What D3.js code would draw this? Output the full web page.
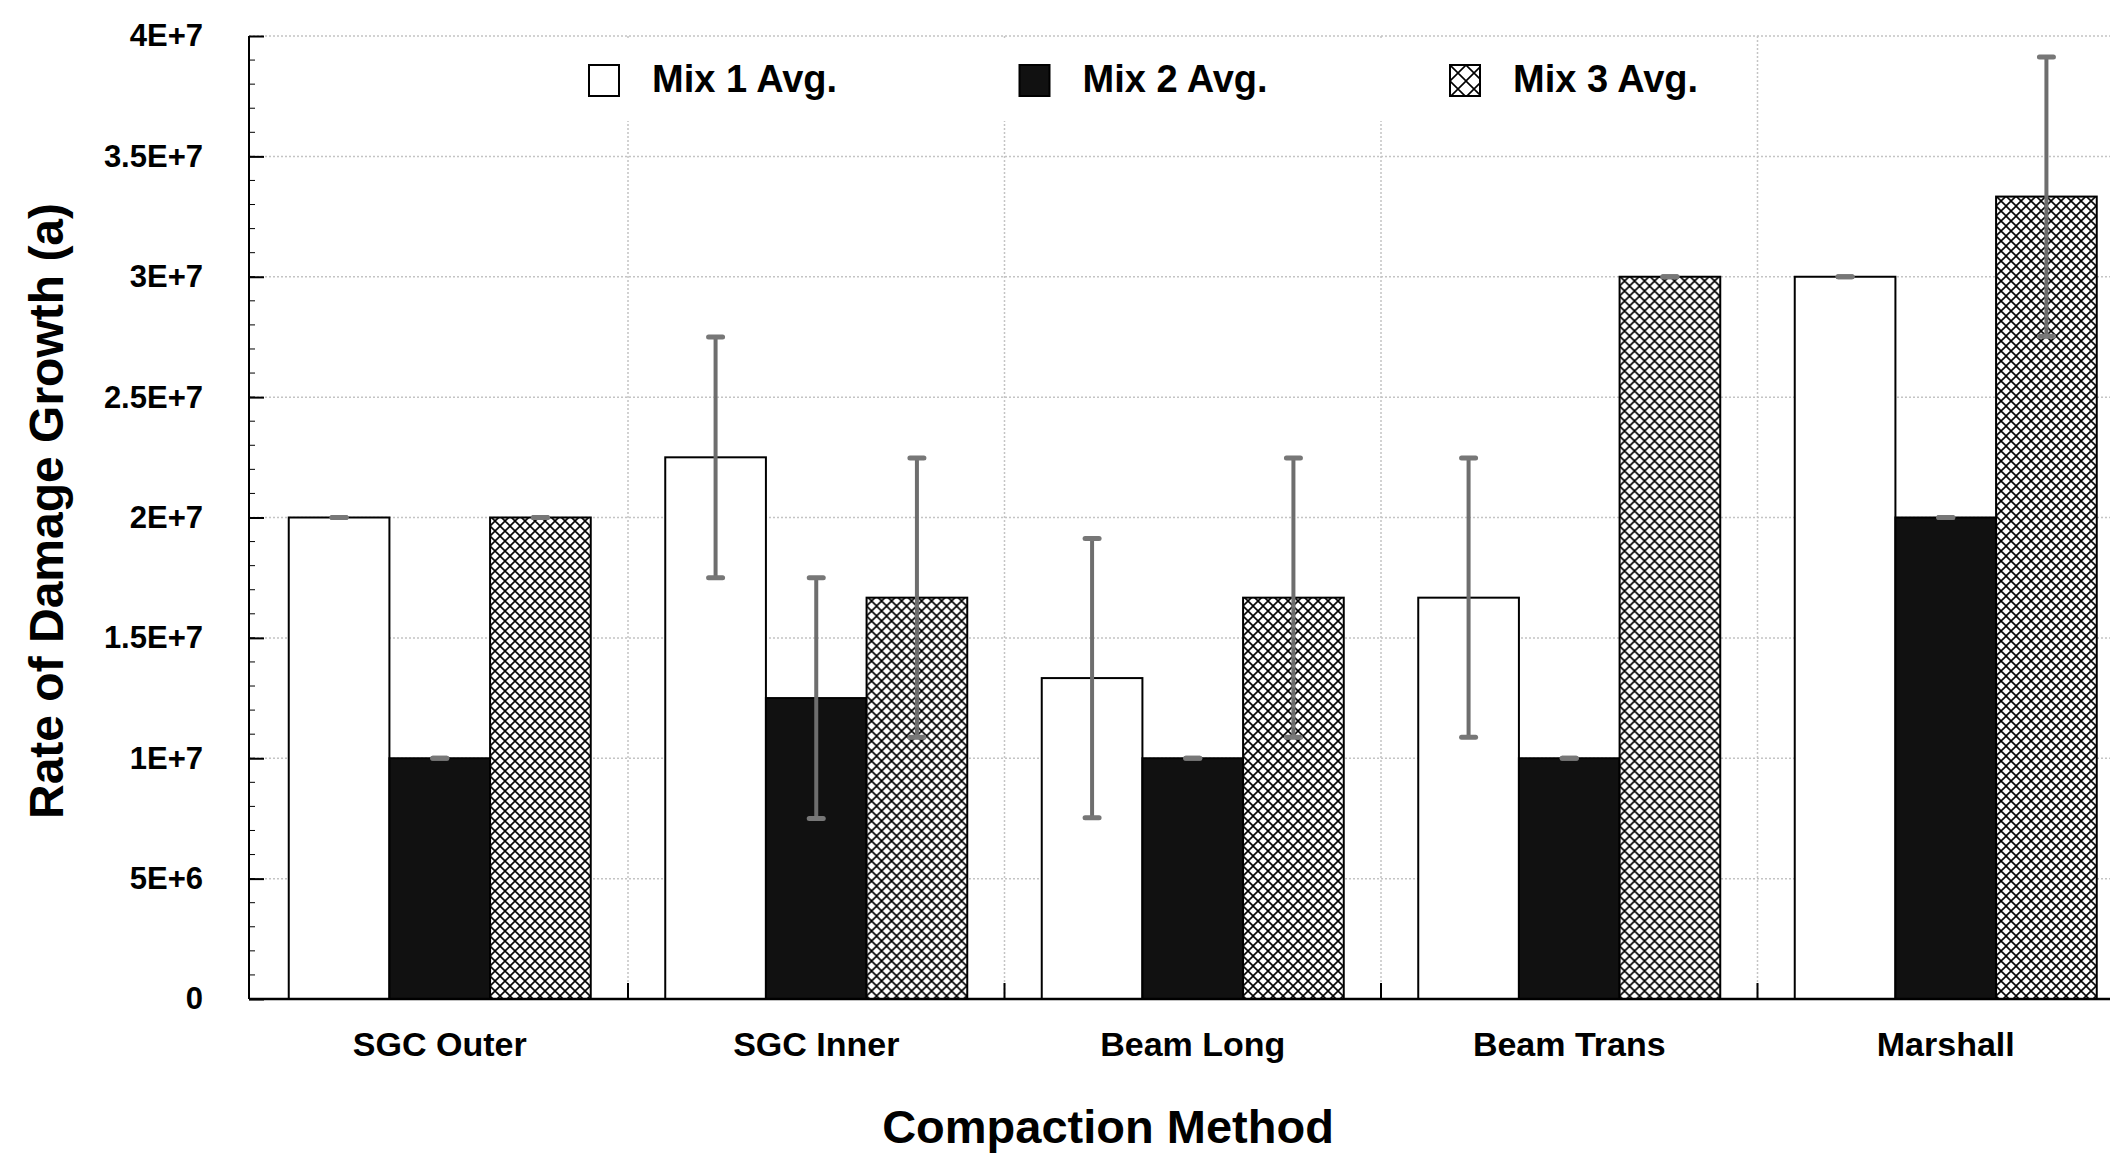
<!DOCTYPE html>
<html>
<head>
<meta charset="utf-8">
<script src="https://cdn.jsdelivr.net/npm/d3@7"></script>
<style>
  body { margin:0; background:#fff; }
  text { font-family: "Liberation Sans", Arial, sans-serif; font-weight:bold; fill:#000; }
</style>
</head>
<body>
<svg></svg>
<script>
// values
var categories = ["SGC Outer", "SGC Inner", "Beam Long", "Beam Trans", "Marshall"]
var seriesNames = ["Mix 1 Avg.", "Mix 2 Avg.", "Mix 3 Avg."]
var mix1 = [2.0e7, 2.25e7, 1.333e7, 1.667e7, 3.0e7]
var mix2 = [1.0e7, 1.25e7, 1.0e7, 1.0e7, 2.0e7]
var mix3 = [2.0e7, 1.667e7, 1.667e7, 3.0e7, 3.333e7]
var err1 = [0, 5.0e6, 5.8e6, 5.8e6, 0]
var err2 = [0, 5.0e6, 0, 0, 0]
var err3 = [0, 5.8e6, 5.8e6, 0, 5.8e6]
var yTicks = [0, 5e6, 1e7, 1.5e7, 2e7, 2.5e7, 3e7, 3.5e7, 4e7]

var mainCode = function(){
    //sizes kept here so they are easy to tweak
    var screen = {width:2110, height:1159}
    var margins = {top:36, left:249}
    var plotH = 963
    var bandW = 376.5   //the last group runs off the right edge like the original
    var shift = 2.5     //groups start a hair right of the axis

    var svg = d3.select("svg")
        .attr("width", screen.width)
        .attr("height", screen.height)

    var defs = svg.append("defs")
    var makeHatch = function(id, size, sw){
        var p = defs.append("pattern")
            .attr("id", id)
            .attr("patternUnits", "userSpaceOnUse")
            .attr("width", size).attr("height", size)
        p.append("rect").attr("width", size).attr("height", size).attr("fill", "#fff")
        p.append("path")
            .attr("d", "M0,0L"+size+","+size+"M"+size+",0L0,"+size)
            .attr("stroke", "#000").attr("stroke-width", sw)
    }
    makeHatch("hatch", 10, 1.6)
    makeHatch("hatchBig", 16, 1.6)

    var xScale = d3.scaleBand()
        .domain(categories)
        .range([shift, shift + categories.length*bandW])
    var mixScale = d3.scaleBand()
        .domain([0,1,2])
        .range([0, bandW])
        .paddingOuter(0.37)
    var yScale = d3.scaleLinear()
        .domain([0, 4e7])
        .range([plotH, 0])

    var fmt = function(d){
        if (d == 0) return "0"
        var e = Math.floor(Math.log10(d))
        return (d/Math.pow(10,e)) + "E+" + e
    }

    var graph = svg.append("g")
        .attr("id", "graph")
        .attr("transform", "translate("+margins.left+","+margins.top+")")

    //grid lines first so bars sit on top
    graph.append("g").selectAll("line")
        .data(yTicks.filter(function(d){return d > 0}))
        .enter().append("line")
        .attr("x1", 0).attr("x2", categories.length*bandW)
        .attr("y1", function(d){return yScale(d)})
        .attr("y2", function(d){return yScale(d)})
        .attr("stroke", "#c4c4c4")
        .attr("stroke-width", 1.5)
        .attr("stroke-dasharray", "2,2")

    graph.append("g").selectAll("line")
        .data(categories.slice(1))
        .enter().append("line")
        .attr("x1", function(d){return xScale(d)})
        .attr("x2", function(d){return xScale(d)})
        .attr("y1", 0).attr("y2", plotH)
        .attr("stroke", "#c4c4c4")
        .attr("stroke-width", 1.5)
        .attr("stroke-dasharray", "2,2")

    //one row per bar
    var series = [mix1, mix2, mix3]
    var errs = [err1, err2, err3]
    var fills = ["#fff", "#111", "url(#hatch)"]
    var bars = []
    categories.forEach(function(c, i){
        series.forEach(function(s, j){
            bars.push({cat:c, mix:j, val:s[i], err:errs[j][i]})
        })
    })

    var groups = graph.append("g").selectAll("g")
        .data(bars)
        .enter().append("g")
        .attr("transform", function(d){return "translate("+(xScale(d.cat)+mixScale(d.mix))+",0)"})

    groups.append("rect")
        .attr("x", 0)
        .attr("width", mixScale.bandwidth())
        .attr("y", function(d){return yScale(d.val)})
        .attr("height", function(d){return plotH - yScale(d.val)})
        .attr("fill", function(d){return fills[d.mix]})
        .attr("stroke", "#000")
        .attr("stroke-width", 2)

    //error bars - gray with little caps
    var bw = mixScale.bandwidth()
    groups.append("line")
        .attr("x1", bw/2).attr("x2", bw/2)
        .attr("y1", function(d){return yScale(d.val + d.err)})
        .attr("y2", function(d){return yScale(d.val - d.err)})
        .attr("stroke", "#6e6e6e")
        .attr("stroke-width", 4)
    groups.selectAll(".cap")
        .data(function(d){return [d.val + d.err, d.val - d.err]})
        .enter().append("line")
        .classed("cap", true)
        .attr("x1", bw/2 - 7).attr("x2", bw/2 + 7)
        .attr("y1", function(v){return yScale(v)})
        .attr("y2", function(v){return yScale(v)})
        .attr("stroke", "#777")
        .attr("stroke-width", 5)
        .attr("stroke-linecap", "round")

    //y axis with inward ticks
    var yAxis = d3.axisLeft(yScale)
        .tickValues(yTicks)
        .tickFormat(fmt)
        .tickSize(-15)
        .tickPadding(46)
    var ya = graph.append("g").attr("id", "yAxis").call(yAxis)
    ya.select(".domain").attr("stroke-width", 2).attr("d", "M0,0V"+plotH)
    ya.selectAll(".tick line").attr("stroke-width", 2)
    ya.selectAll("text").style("font-size", "31px")

    //minor ticks
    graph.append("g").selectAll("line")
        .data(d3.range(0, 4e7, 1e6))
        .enter().append("line")
        .attr("x1", 0).attr("x2", 6)
        .attr("y1", function(d){return yScale(d)})
        .attr("y2", function(d){return yScale(d)})
        .attr("stroke", "#000").attr("stroke-width", 1)

    //x axis: labels at centres, ticks at the group borders
    var xAxis = d3.axisBottom(xScale).tickSize(0).tickPadding(33)
    var xa = graph.append("g").attr("id", "xAxis")
        .attr("transform", "translate(0,"+plotH+")")
        .call(xAxis)
    xa.select(".domain").attr("stroke-width", 2.5).attr("d", "M0,0H"+(categories.length*bandW))
    xa.selectAll("text").style("font-size", "34px").attr("dy", "0.71em")
    xa.append("g").selectAll("line")
        .data(categories.slice(1))
        .enter().append("line")
        .attr("x1", function(d){return xScale(d)})
        .attr("x2", function(d){return xScale(d)})
        .attr("y1", 0).attr("y2", -16)
        .attr("stroke", "#000").attr("stroke-width", 2)

    //legend sits on a white box that hides the vertical grid
    var legend = svg.append("g").attr("id", "legend")
    legend.append("rect")
        .attr("x", 560).attr("y", 39)
        .attr("width", 1185).attr("height", 82)
        .attr("fill", "#fff")
    var legendFills = ["#fff", "#111", "url(#hatchBig)"]
    var li = legend.selectAll("g.item")
        .data(seriesNames)
        .enter().append("g")
        .classed("item", true)
        .attr("transform", function(d, i){return "translate("+(589 + i*430.5)+",65)"})
    li.append("rect")
        .attr("width", 30).attr("height", 31)
        .attr("fill", function(d, i){return legendFills[i]})
        .attr("stroke", "#000").attr("stroke-width", 2)
    li.append("text")
        .text(function(d){return d})
        .attr("x", 63).attr("y", 27)
        .style("font-size", "38px")

    //axis titles
    svg.append("text")
        .text("Compaction Method")
        .attr("x", 1108).attr("y", 1143)
        .attr("text-anchor", "middle")
        .style("font-size", "47px")
    svg.append("text")
        .text("Rate of Damage Growth (a)")
        .attr("transform", "translate(63,511) rotate(-90)")
        .attr("text-anchor", "middle")
        .style("font-size", "48px")
}

mainCode() //start it all off
</script>
</body>
</html>
